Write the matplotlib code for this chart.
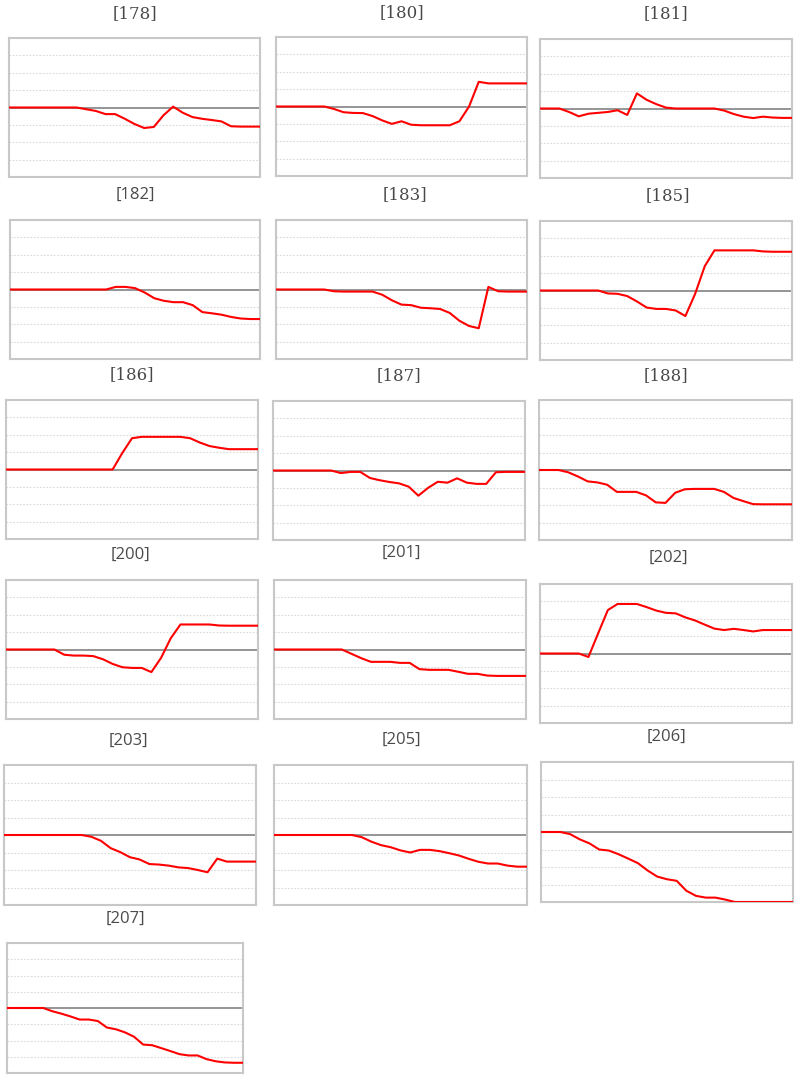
import matplotlib
matplotlib.use("Agg")
import matplotlib.pyplot as plt
import numpy as np

# ---- data ----
titles = ["[178]", "[180]", "[181]", "[182]", "[183]", "[185]", "[186]", "[187]",
          "[188]", "[200]", "[201]", "[202]", "[203]", "[205]", "[206]", "[207]"]

s178 = [0, 0, 0, 0, 0, 0, 0, 0, -0.1, -0.2, -0.38, -0.38, -0.65, -0.95, -1.18, -1.12,
        -0.45, 0.05, -0.3, -0.55, -0.65, -0.72, -0.8, -1.08, -1.1, -1.1, -1.1]
s180 = [0, 0, 0, 0, 0, 0, -0.14, -0.33, -0.37, -0.38, -0.55, -0.8, -1.0, -0.85, -1.05,
        -1.08, -1.08, -1.08, -1.08, -0.85, 0.0, 1.42, 1.33, 1.33, 1.33, 1.33, 1.33]
s181 = [0, 0, 0, -0.2, -0.45, -0.3, -0.25, -0.2, -0.1, -0.37, 0.87, 0.5, 0.25, 0.05, 0,
        0, 0, 0, 0, -0.12, -0.32, -0.47, -0.55, -0.47, -0.52, -0.54, -0.54]
s182 = [0, 0, 0, 0, 0, 0, 0, 0, 0, 0, 0, 0.15, 0.15, 0.08, -0.17, -0.5, -0.65, -0.73,
        -0.73, -0.9, -1.3, -1.37, -1.45, -1.58, -1.67, -1.7, -1.7]
s183 = [0, 0, 0, 0, 0, 0, -0.1, -0.12, -0.12, -0.12, -0.12, -0.3, -0.62, -0.87, -0.9,
        -1.05, -1.08, -1.12, -1.35, -1.8, -2.1, -2.23, 0.15, -0.1, -0.12, -0.12, -0.12]
s185 = [0, 0, 0, 0, 0, 0, 0, -0.17, -0.19, -0.32, -0.63, -0.98, -1.06, -1.06, -1.15,
        -1.47, -0.2, 1.4, 2.31, 2.31, 2.31, 2.31, 2.31, 2.25, 2.23, 2.23, 2.23]
s186 = [0, 0, 0, 0, 0, 0, 0, 0, 0, 0, 0, 0, 0.95, 1.8, 1.88, 1.88, 1.88, 1.88, 1.88,
        1.8, 1.55, 1.35, 1.25, 1.17, 1.17, 1.17, 1.17]
s187 = [0, 0, 0, 0, 0, 0, 0, -0.15, -0.08, -0.08, -0.43, -0.56, -0.66, -0.74, -0.93,
        -1.45, -1.0, -0.65, -0.7, -0.45, -0.7, -0.77, -0.77, -0.1, -0.08, -0.08, -0.08]
s188 = [0, 0, 0, -0.13, -0.37, -0.65, -0.71, -0.84, -1.25, -1.25, -1.25, -1.45, -1.85,
        -1.88, -1.3, -1.1, -1.08, -1.08, -1.08, -1.25, -1.6, -1.78, -1.95, -1.96, -1.96,
        -1.96, -1.96]
s200 = [0, 0, 0, 0, 0, 0, -0.3, -0.35, -0.35, -0.38, -0.56, -0.83, -1.02, -1.06, -1.06,
        -1.3, -0.48, 0.65, 1.44, 1.44, 1.44, 1.44, 1.38, 1.37, 1.37, 1.37, 1.37]
s201 = [0, 0, 0, 0, 0, 0, 0, 0, -0.25, -0.5, -0.71, -0.71, -0.71, -0.77, -0.77, -1.13,
        -1.17, -1.17, -1.17, -1.28, -1.4, -1.4, -1.5, -1.52, -1.52, -1.52, -1.52]
s202 = [0, 0, 0, 0, 0, -0.2, 1.16, 2.5, 2.85, 2.85, 2.85, 2.67, 2.47, 2.34, 2.31, 2.08,
        1.9, 1.66, 1.43, 1.35, 1.42, 1.35, 1.27, 1.35, 1.35, 1.35, 1.35]
s203 = [0, 0, 0, 0, 0, 0, 0, 0, 0, -0.1, -0.33, -0.75, -0.98, -1.27, -1.4, -1.66, -1.69,
        -1.75, -1.85, -1.89, -2.0, -2.13, -1.35, -1.52, -1.52, -1.52, -1.52]
s205 = [0, 0, 0, 0, 0, 0, 0, 0, 0, -0.12, -0.38, -0.58, -0.7, -0.88, -1.0, -0.85, -0.85,
        -0.92, -1.04, -1.17, -1.36, -1.53, -1.63, -1.63, -1.75, -1.81, -1.81]
s206 = [0, 0, 0, -0.12, -0.42, -0.65, -1.0, -1.06, -1.27, -1.52, -1.78, -2.2, -2.55,
        -2.7, -2.79, -3.36, -3.65, -3.75, -3.75, -3.86, -4.0, -4.0, -4.0, -4.0, -4.0,
        -4.0, -4.0]
s207 = [0, 0, 0, 0, 0, -0.2, -0.35, -0.52, -0.71, -0.71, -0.8, -1.2, -1.31, -1.5, -1.77,
        -2.25, -2.29, -2.47, -2.65, -2.84, -2.92, -2.92, -3.15, -3.28, -3.35, -3.37, -3.37]

series = [s178, s180, s181, s182, s183, s185, s186, s187, s188,
          s200, s201, s202, s203, s205, s206, s207]

# ---- layout (pixel boxes: left, top, right, bottom) and title anchors ----
W, H = 800, 1078
boxes = [
    (9, 38, 260, 177), (276, 37, 527, 176), (540, 39, 792, 178),
    (10, 220, 260, 359), (276, 220, 527, 359), (540, 221, 792, 360),
    (6, 400, 258, 539), (273, 401, 525, 540), (539, 400, 792, 540),
    (6, 580, 258, 719), (274, 580, 526, 719), (540, 584, 792, 723),
    (4, 765, 256, 905), (274, 765, 527, 905), (541, 762, 793, 902),
    (7, 943, 243, 1073),
]
title_pos = [
    (135, 14), (402, 13), (666, 14),
    (135, 195), (405, 195), (668, 196),
    (132, 375), (399, 376), (666, 376),
    (131, 555), (401, 553), (668, 558),
    (128, 741), (401, 740), (667, 737),
    (125, 919),
]
serif_titles = {"[178]", "[180]", "[181]", "[183]", "[185]", "[186]", "[187]", "[188]"}

fig = plt.figure(figsize=(W / 100, H / 100), dpi=100)
fig.patch.set_facecolor("white")

for title, ys, (l, t, r, b), (tx, ty) in zip(titles, series, boxes, title_pos):
    ax = fig.add_axes([l / W, 1 - b / H, (r - l) / W, (b - t) / H])
    x = np.arange(len(ys))
    ax.set_xlim(0, len(ys) - 1)
    ax.set_ylim(-4, 4)
    for g in [-3, -2, -1, 1, 2, 3]:
        ax.axhline(g, color="#d9d9d9", lw=0.8, ls=(0, (1.5, 1.5)), zorder=1)
    ax.axhline(0, color="#8c8c8c", lw=1.3, zorder=1.5)
    ax.set_xticks([])
    ax.set_yticks([])
    for sp in ax.spines.values():
        sp.set_color("#c8c8c8")
        sp.set_linewidth(1.5)
    ax.plot(x, ys, color="#ff0000", lw=1.5, zorder=3, solid_joinstyle="round")
    if title in serif_titles:
        fig.text(tx / W, 1 - ty / H, title, ha="center", va="center",
                 fontsize=12, color="#474747", family="DejaVu Serif")
    else:
        fig.text(tx / W, 1 - ty / H, title, ha="center", va="center",
                 fontsize=12, color="#4a4a4a", family="Open Sans")

fig.savefig("out.png", dpi=100)
